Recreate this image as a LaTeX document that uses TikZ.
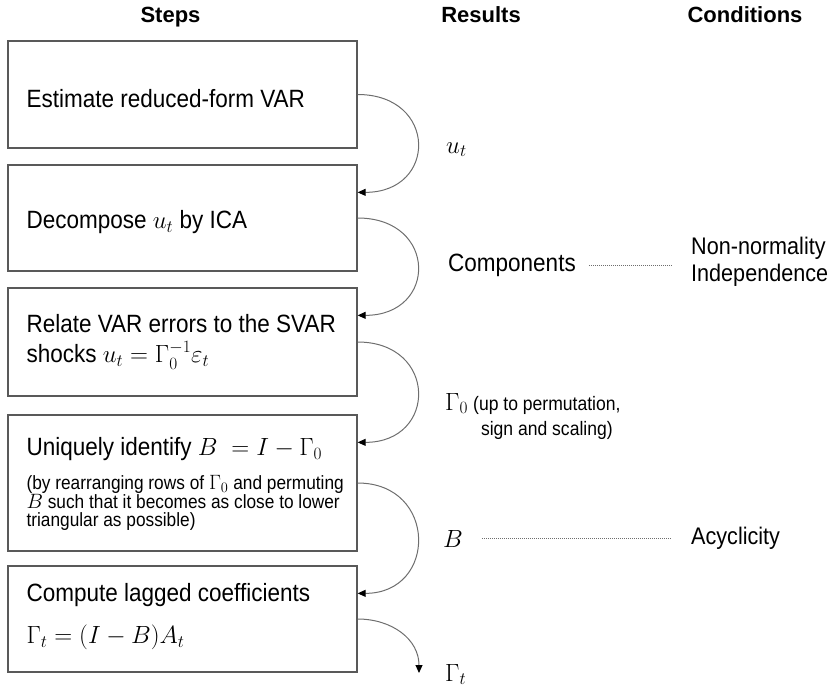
\documentclass[tikz,border=0pt]{standalone}
\usepackage{fontspec}
\usepackage{amsmath}
\setmainfont{Liberation Sans}[FakeStretch=0.9]
\newfontfamily\headfont{Liberation Sans}
\usetikzlibrary{arrows.meta}
\definecolor{boxgray}{HTML}{595959}
\definecolor{arcgray}{HTML}{6E6E6E}

\begin{document}
\lineskiplimit=-20pt
\begin{tikzpicture}[x=1pt,y=1pt,
  stepbox/.style={draw=boxgray, line width=1.3pt, minimum width=349pt, minimum height=#1, inner sep=0pt},
  steptext/.style={anchor=west, inner sep=0pt, text width=328pt, align=flush left,
    font=\fontsize{25}{36}\selectfont},
  head/.style={anchor=base, inner sep=0pt, font=\headfont\bfseries\fontsize{22}{26}\selectfont},
  plain/.style={inner sep=0pt, font=\fontsize{25}{27}\selectfont},
  cond/.style={inner sep=0pt, anchor=west, align=flush left, font=\fontsize{24}{27}\selectfont},
  note/.style={inner sep=0pt, align=center, font=\fontsize{19.5}{25}\selectfont},
  flow/.style={draw=arcgray, line width=1pt, -{Triangle[length=8pt,width=7pt,color=black]}},
  dotline/.style={draw=arcgray, line width=1pt, dash pattern=on 1pt off 1pt}]
\useasboundingbox (0,0) rectangle (832,-689);
% column heads
\node[head] (hsteps) at (170.5,-22) {Steps};
\node[head] (hres) at (481,-22) {Results};
\node[head] (hcond) at (745,-22) {Conditions};
% step frames
\node[stepbox=107pt] (box1) at (182.5,-94.5) {};
\node[stepbox=106pt] (box2) at (182.5,-218) {};
\node[stepbox=108pt] (box3) at (182.5,-342) {};
\node[stepbox=136pt] (box4) at (182.5,-483) {};
\node[stepbox=106pt] (box5) at (182.5,-619) {};
% step texts
\node[steptext] (step1) at ([xshift=19pt,yshift=-4pt]box1.west) {Estimate reduced-form VAR};
\node[steptext] (step2) at ([xshift=19pt,yshift=-4pt]box2.west) {Decompose $u_t$ by ICA};
\node[steptext, font=\fontsize{25}{30}\selectfont] (step3) at ([xshift=19pt]box3.west) {Relate VAR errors to the SVAR\\
  shocks $u_t = \Gamma_0^{-1}\varepsilon_t$};
\node[steptext] (step4) at ([xshift=19pt,yshift=-1pt]box4.west) {Uniquely identify $B\;= I - \Gamma_0$\\[14pt]
  {\fontsize{19.2}{18.5}\selectfont (by rearranging rows of $\Gamma_0$ and permuting\\
  $B$ such that it becomes as close to lower\\ triangular as possible)\par}};
\node[steptext, font=\fontsize{25}{42}\selectfont] (step5) at ([xshift=19pt,yshift=2pt]box5.west) {Compute lagged coefficients\\
  $\Gamma_t = (I - B)A_t$};
% entry points of the arrows
\coordinate (in2) at ([yshift=-28pt]box2.north east);
\coordinate (in3) at ([yshift=-28pt]box3.north east);
\coordinate (in4) at ([yshift=-28pt]box4.north east);
\coordinate (in5) at ([yshift=-28pt]box5.north east);
\coordinate (out5) at (419,-673);
% results
\node[plain, anchor=base west] (resu) at (446,-153) {$u_t$};
\node[plain, anchor=west] (rescomp) at (448,-265) {Components};
\node[plain, anchor=base west] (resg) at (445,-410) {$\Gamma_0$};
\node[note, anchor=west] (resgnote) at (473,-417.5) {(up to permutation,\\ sign and scaling)};
\node[plain, anchor=base west] (resb) at (443,-547) {$B$};
\node[plain, anchor=base west] (resgt) at (445,-681) {$\Gamma_t$};
% conditions
\node[cond] (condind) at (691,-262) {Non-normality\\ Independence};
\node[cond] (condacy) at (691,-538) {Acyclicity};
% arcs
\draw[flow] (box1.east) to[out=0, in=0, distance=80pt] (in2);
\draw[flow] (box2.east) to[out=0, in=0, distance=80pt] (in3);
\draw[flow] (box3.east) to[out=0, in=0, distance=80pt] (in4);
\draw[flow] (box4.east) to[out=0, in=0, distance=80pt] (in5);
\draw[flow] (box5.east) to[out=0, in=90, distance=34pt] (out5);
% dotted links
\draw[dotline, shorten <=13pt, shorten >=19pt] (rescomp.east) -- (rescomp.east -| condind.west);
\draw[dotline, shorten <=19pt, shorten >=19pt] (resb.east) -- (resb.east -| condacy.west);
\end{tikzpicture}
\end{document}
